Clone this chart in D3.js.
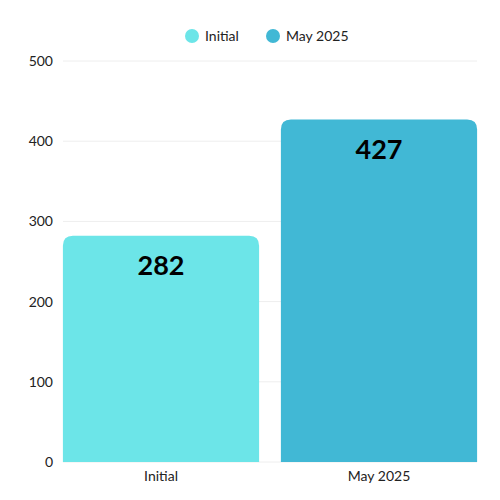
<!DOCTYPE html>
<html><head><meta charset="utf-8">
<script src="https://cdn.jsdelivr.net/npm/d3@7"></script>
<style>body{margin:0;background:#fff}</style>
</head><body>
<svg id="chart" width="500" height="500"></svg>
<script>
var categories = ['Initial', 'May 2025'];
var values = [282, 427];
var colors = ['#6ce5e8', '#41b8d5'];
var yTicks = [0, 100, 200, 300, 400, 500];

var svg = d3.select('#chart');
var font = 'Lato, "Open Sans", sans-serif';

var x = d3.scaleBand().domain(categories).range([52, 488])
    .paddingInner(0.1).paddingOuter(0.05);
var y = d3.scaleLinear().domain([0, 500]).range([462, 61]);

// grid
svg.selectAll('line.grid').data(yTicks).join('line')
    .attr('x1', 63).attr('x2', 477)
    .attr('y1', d => y(d)).attr('y2', d => y(d))
    .attr('stroke', '#eeeeee');

svg.selectAll('text.ytick').data(yTicks).join('text')
    .attr('x', 53).attr('y', d => y(d) + 5)
    .attr('text-anchor', 'end')
    .style('font-family', font).style('font-size', '14px').attr('fill', '#222')
    .text(d => d);

// bars with rounded top corners
var r = 10;
function barPath(x0, w, yt, yb) {
    return 'M' + x0 + ',' + yb + 'V' + (yt + r) + 'Q' + x0 + ',' + yt + ' ' + (x0 + r) + ',' + yt +
        'H' + (x0 + w - r) + 'Q' + (x0 + w) + ',' + yt + ' ' + (x0 + w) + ',' + (yt + r) + 'V' + yb + 'Z';
}
svg.selectAll('path.bar').data(values).join('path')
    .attr('d', (d, i) => barPath(x(categories[i]), x.bandwidth(), y(d), y(0)))
    .attr('fill', (d, i) => colors[i]);

svg.selectAll('text.val').data(values).join('text')
    .attr('x', (d, i) => x(categories[i]) + x.bandwidth() / 2)
    .attr('y', d => y(d) + 39)
    .attr('text-anchor', 'middle')
    .style('font-family', font).style('font-size', '27px').style('font-weight', 'bold')
    .attr('fill', '#000')
    .text(d => d);

svg.selectAll('text.xtick').data(categories).join('text')
    .attr('x', d => x(d) + x.bandwidth() / 2).attr('y', 481)
    .attr('text-anchor', 'middle')
    .style('font-family', font).style('font-size', '14px').attr('fill', '#222')
    .text(d => d);

// legend
var lx = [192, 273];
var lg = svg.selectAll('g.leg').data(categories).join('g')
    .attr('transform', (d, i) => 'translate(' + lx[i] + ',36)');
lg.append('circle').attr('r', 7).attr('fill', (d, i) => colors[i]);
lg.append('text').attr('x', 13).attr('y', 5)
    .style('font-family', font).style('font-size', '14px').attr('fill', '#222')
    .text(d => d);
</script>
</body></html>
